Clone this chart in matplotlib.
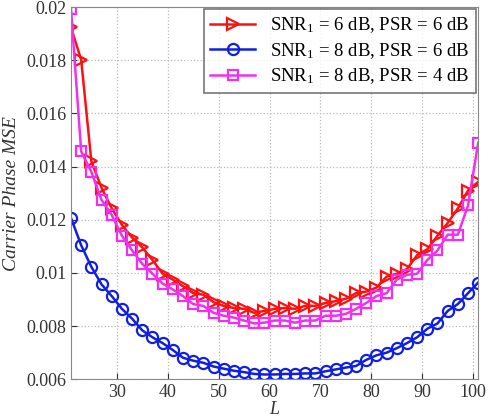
import matplotlib.pyplot as plt
import numpy as np

L = np.arange(21, 102, 2)

mse_snr6_psr6 = [0.01924, 0.01802, 0.0142, 0.01320, 0.01243, 0.01181, 0.01133, 0.01096,
                 0.01049, 0.00997, 0.00975, 0.0095, 0.00924, 0.00918, 0.00890, 0.00876,
                 0.00868, 0.00865, 0.0085, 0.00857, 0.00865, 0.00868, 0.00865, 0.00876,
                 0.00876, 0.00887, 0.00894, 0.00903, 0.00924, 0.0093, 0.00945, 0.00986,
                 0.00997, 0.01015, 0.01067, 0.01089, 0.0114, 0.01188, 0.01243, 0.0131,
                 0.01343]
mse_snr8_psr6 = [0.01207, 0.01104, 0.01023, 0.00957, 0.00913, 0.00865, 0.00828, 0.00784,
                 0.00758, 0.00736, 0.0071, 0.00681, 0.0067, 0.00662, 0.00648, 0.0064,
                 0.00632, 0.00627, 0.0062, 0.00618, 0.00618, 0.0062, 0.0062, 0.00622,
                 0.00622, 0.0063, 0.00637, 0.00644, 0.0065, 0.00673, 0.0069, 0.0070,
                 0.00717, 0.00736, 0.00758, 0.0079, 0.0081, 0.00857, 0.00883, 0.00924,
                 0.00964]
mse_snr8_psr4 = [0.01993, 0.01457, 0.0138, 0.01275, 0.01218, 0.0114, 0.01085, 0.01034,
                 0.00997, 0.0096, 0.00938, 0.00913, 0.00883, 0.00876, 0.0085, 0.00839,
                 0.00832, 0.00821, 0.0081, 0.00813, 0.00821, 0.00821, 0.00813, 0.00821,
                 0.00821, 0.00839, 0.00839, 0.00846, 0.00865, 0.00887, 0.00913, 0.00924,
                 0.00975, 0.00993, 0.00997, 0.01049, 0.01085, 0.01144, 0.01144, 0.01254,
                 0.0149]

labels = ['SNR$_1$ = 6 dB, PSR = 6 dB',
          'SNR$_1$ = 8 dB, PSR = 6 dB',
          'SNR$_1$ = 8 dB, PSR = 4 dB']

plt.rcParams['font.family'] = ['Liberation Serif', 'DejaVu Serif']
plt.rcParams['mathtext.fontset'] = 'custom'
plt.rcParams['mathtext.rm'] = 'Liberation Serif'
plt.rcParams['mathtext.it'] = 'Liberation Serif:italic'

fig = plt.figure(figsize=(4.93, 4.2), dpi=100)
ax = fig.add_axes([0.144, 0.097, 0.826, 0.886])

ax.plot(L, mse_snr6_psr6, color='#ff1010', marker='>', ms=8, mew=1.6,
        mfc='none', lw=1.8, label=labels[0])
ax.plot(L, mse_snr8_psr6, color='#1020e0', marker='o', ms=8, mew=1.6,
        mfc='none', lw=1.8, label=labels[1])
ax.plot(L, mse_snr8_psr4, color='#f030f0', marker='s', ms=7, mew=1.6,
        mfc='none', lw=1.8, label=labels[2])

ax.set_xlim(21, 101)
ax.set_ylim(0.006, 0.02)
ax.set_xticks(np.arange(30, 101, 10))
yt = np.arange(0.006, 0.0201, 0.002)
ax.set_yticks(yt)
ax.set_yticklabels(['0.006', '0.008', '0.01', '0.012', '0.014', '0.016', '0.018', '0.02'])
ax.tick_params(direction='in', labelsize=13, colors='#333333', length=4)
for s in ax.spines.values():
    s.set_color('#888888')
ax.grid(True, linestyle=':', color='#bbbbbb', lw=0.9)

ax.set_xlabel('L', fontsize=13, style='italic', labelpad=0, color='#333333')
ax.set_ylabel('Carrier Phase MSE', fontsize=14, style='italic', labelpad=4, color='#333333')

leg = ax.legend(loc='upper right', fontsize=13.5, frameon=True, fancybox=False,
                edgecolor='#555555', borderaxespad=0.1, handlelength=2.4,
                labelspacing=0.3, borderpad=0.35)
leg.get_frame().set_linewidth(1.2)

fig.savefig('out.png', dpi=100)
